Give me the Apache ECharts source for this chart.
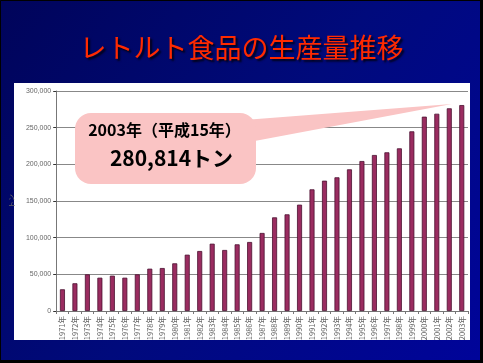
<!DOCTYPE html>
<html><head><meta charset="utf-8">
<script src="https://cdn.jsdelivr.net/npm/echarts@6/dist/echarts.min.js"></script>
<style>html,body{margin:0;padding:0;background:#000;}#c{width:483px;height:363px;}</style>
</head><body><div id="c"></div>
<script>
const years = ['1971年','1972年','1973年','1974年','1975年','1976年','1977年','1978年','1979年','1980年','1981年','1982年','1983年','1984年','1985年','1986年','1987年','1988年','1989年','1990年','1991年','1992年','1993年','1994年','1995年','1996年','1997年','1998年','1999年','2000年','2001年','2002年','2003年'];
const production = [29600,37800,50000,45400,48200,45400,50000,57700,58600,65000,76800,81800,91800,83200,90900,94100,106400,127700,131800,145000,165900,177700,182300,193200,204500,212700,216400,221800,245000,265000,269000,276400,280814];
const yTicks = {min:0, max:300000, interval:50000};
const titleText = 'レトルト食品の生産量推移';
const calloutLine1 = '2003年（平成15年）';
const calloutLine2 = '280,814トン';
const yName = 'トン';

const chart = echarts.init(document.getElementById('c'), null, {renderer:'canvas'});
const font = '"Noto Sans CJK JP", "Noto Sans", sans-serif';
const option = {
  animation:false,
  backgroundColor: new echarts.graphic.LinearGradient(0,0,1,1,[
    {offset:0,color:'#00045a'},{offset:0.5,color:'#000a7c'},{offset:1,color:'#00049a'}]),
  title:{text:titleText,left:'center',top:29,textStyle:{fontFamily:font,fontSize:27,fontWeight:'normal',color:'#ff2a00',textShadowColor:'rgba(0,0,0,0.8)',textShadowBlur:2,textShadowOffsetX:2,textShadowOffsetY:2}},
  grid:{left:55.5,right:15,top:91,bottom:52},
  xAxis:{type:'category',data:years,
    axisLine:{lineStyle:{color:'#777',width:1}},
    axisTick:{show:true,length:3,lineStyle:{color:'#777'}},
    axisLabel:{rotate:90,interval:0,fontSize:7.5,color:'#666',fontFamily:font,margin:5}},
  yAxis:{type:'value',min:yTicks.min,max:yTicks.max,interval:yTicks.interval,
    name:yName,nameLocation:'middle',nameGap:34,nameRotate:90,nameTextStyle:{fontSize:7,color:'#666',fontFamily:font},
    axisLine:{show:true,lineStyle:{color:'#777'}},
    axisTick:{show:true,length:3,lineStyle:{color:'#333'}},
    axisLabel:{fontSize:7,color:'#666',fontFamily:'"Liberation Sans", Arial, sans-serif',margin:5,
      formatter:v=>v.toLocaleString('en-US')},
    splitLine:{lineStyle:{color:'#888',width:1}}},
  series:[{type:'bar',data:production,barWidth:5,z:3,
    itemStyle:{color:'#9a2c60',borderColor:'#4a1030',borderWidth:0.8}}],
  graphic:[{type:'rect',z:-10,shape:{x:14,y:83,width:456,height:257},style:{fill:'#ffffff'}}]
};
chart.setOption(option);

const tip = chart.convertToPixel({seriesIndex:0},[years[years.length-1], production[production.length-1]]);
const bx=75, by=113, bw=181, bh=71;
chart.setOption({graphic:[
  {type:'rect',z:-10,shape:{x:14,y:83,width:456,height:257},style:{fill:'#ffffff'}},
  {type:'polygon',z:100,shape:{points:[[bx+bw-12,by+7],[tip[0]-10,tip[1]-1],[bx+bw-12,by+30]]},style:{fill:'#fac4c4'}},
  {type:'rect',z:101,shape:{x:bx,y:by,width:bw,height:bh,r:16},style:{fill:'#fac4c4'}},
  {type:'text',z:102,style:{x:bx+bw/2-1,y:by+17,text:calloutLine1,align:'center',verticalAlign:'middle',font:'bold 16px '+font,fill:'#000'}},
  {type:'text',z:102,style:{x:bx+bw/2+6,y:by+45,text:calloutLine2,align:'center',verticalAlign:'middle',font:'bold 21px '+font,fill:'#000'}},
  {type:'rect',z:200,silent:true,shape:{x:0.5,y:0.5,width:481,height:361},style:{fill:null,stroke:'#000',lineWidth:1}},
  {type:'rect',z:200,silent:true,shape:{x:480,y:0,width:3,height:363},style:{fill:'#000'}},
  {type:'rect',z:200,silent:true,shape:{x:0,y:360,width:483,height:3},style:{fill:'#000'}}
]});
</script></body></html>
